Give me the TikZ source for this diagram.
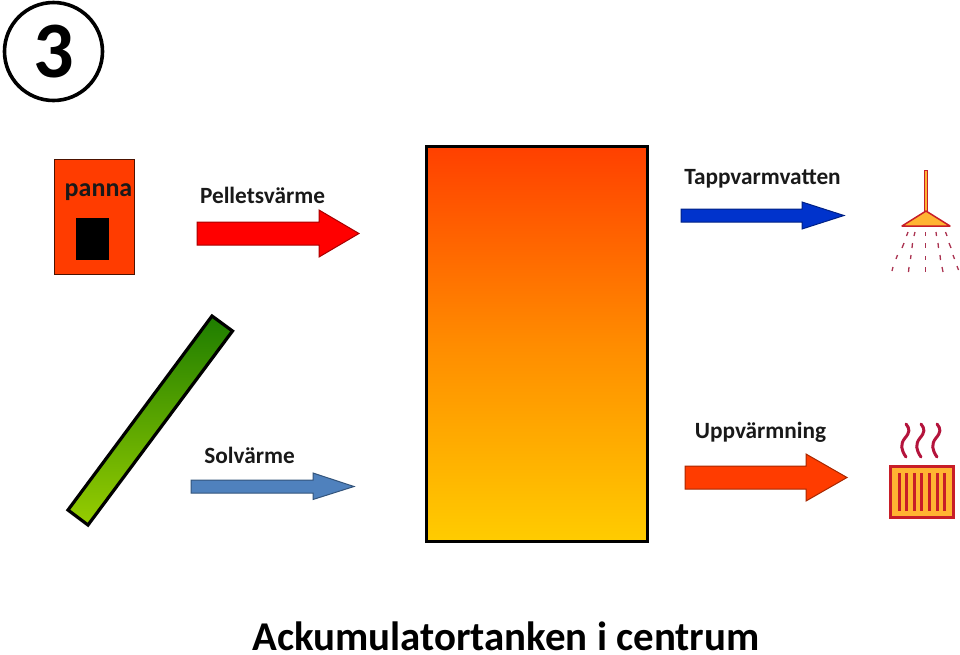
\documentclass[tikz,border=0pt]{standalone}
\usepackage{fontspec}
\setmainfont{Carlito}
\begin{document}
\begin{tikzpicture}[x=1pt,y=-1pt,
 lbl/.style={inner sep=0pt,font=\bfseries\fontsize{23.3}{23.3}\selectfont,text=black!90},
 fatarrow/.style={draw=#1!65!black,line width=1pt,fill=#1},
 drop/.style={draw=dropc,line width=1.3pt},
 wave/.style={draw=wavec,line width=3pt,line cap=round},
 fin/.style={draw=redc,line width=3pt}]
\definecolor{orangered}{RGB}{255,60,0}
\definecolor{tanktop}{RGB}{255,64,0}
\definecolor{tankmid}{RGB}{255,140,0}
\definecolor{tankbot}{RGB}{255,204,0}
\definecolor{blueA}{RGB}{0,51,204}
\definecolor{steel}{RGB}{79,129,189}
\definecolor{redc}{RGB}{200,30,40}
\definecolor{dropc}{RGB}{170,50,80}
\definecolor{wavec}{RGB}{180,20,60}
\definecolor{amber}{RGB}{255,180,50}
\definecolor{pure}{RGB}{255,0,0}
\definecolor{darkgreen}{RGB}{30,125,0}
\definecolor{lightgreen}{RGB}{150,205,0}
\useasboundingbox (0,0) rectangle (960,654);
% step number
\node[circle,draw=black,line width=3.6pt,minimum size=98pt,inner sep=0pt,font=\bfseries\fontsize{80}{80}\selectfont] (num) at (53.5,51.5) {3};
% boiler
\node[rectangle,draw=black!70!orangered,line width=1pt,fill=orangered,minimum width=80pt,minimum height=115pt,inner sep=0pt] (boiler) at (94.5,216.5) {};
\node[rectangle,fill=black,minimum width=33pt,minimum height=42pt,inner sep=0pt] (door) at (92,239) {};
\node[inner sep=0pt,font=\bfseries\fontsize{26}{26}\selectfont,text=black!90] (panna) at (98.5,192) {panna};
% tank
\node[rectangle,draw=black,line width=3pt,top color=tanktop,bottom color=tankbot,middle color=tankmid,minimum width=221pt,minimum height=395pt,inner sep=0pt] (tank) at (537,344) {};
% collector
\coordinate (c1) at (212,316);
\coordinate (c2) at (232.5,331);
\coordinate (c3) at (88,525);
\coordinate (c4) at (68,510);
\shade[top color=darkgreen,bottom color=lightgreen] (c1) -- (c2) -- (c3) -- (c4) -- cycle;
\draw[black,line width=3.2pt,line join=miter] (c1) -- (c2) -- (c3) -- (c4) -- cycle;
% arrows
\draw[fatarrow=pure] (197,222) -- (319,222) -- (319,210) -- (359,233.5) -- (319,257) -- (319,245) -- (197,245) -- cycle;
\draw[fatarrow=steel] (191,480) -- (313,480) -- (313,473) -- (354,486.5) -- (313,499.5) -- (313,493) -- (191,493) -- cycle;
\draw[fatarrow=blueA] (681,209) -- (802,209) -- (802,202) -- (844,215.5) -- (802,229) -- (802,222) -- (681,222) -- cycle;
\draw[fatarrow=orangered] (685,466) -- (806,466) -- (806,454) -- (847,477.5) -- (806,501) -- (806,489) -- (685,489) -- cycle;
% labels
\node[lbl] (pellets) at (262.5,195.5) {Pelletsvärme};
\node[lbl] (solar) at (249.5,455.5) {Solvärme};
\node[lbl] (tapp) at (762.5,179) {Tappvarmvatten};
\node[lbl] (uppv) at (760.5,432) {Uppvärmning};
\node[inner sep=0pt,anchor=base,font=\fontsize{40.9}{41}\selectfont\bfseries] (title) at (506,650) {Ackumulatortanken i centrum};
% shower
\draw[draw=redc,fill=amber,line width=1.3pt] (924.5,170.5) rectangle (927.5,212);
\draw[draw=redc,fill=amber,line width=1.5pt,line join=round] (926,211) -- (950,226) -- (902,226) -- cycle;
\foreach \xa/\ya/\xb/\yb in {
 908/232/906.5/236, 904/243/902/248, 897.5/255/896/259, 893/267/892/271,
 915/232/914/236, 912.5/243/912/248, 911/255/910.5/259, 909/267/908.5/272,
 925.5/232/925.5/236, 925.5/243/925.5/248, 925.5/256/925.5/260, 925.5/267/925.5/272,
 936/232/936.5/236, 938/243/938.5/248, 940/255/940.5/260, 942/267/943/272,
 945.5/232/947/236, 949/243/951/248, 953/255/954.5/259, 957/266/958.5/270}
 {\draw[drop] (\xa,\ya) -- (\xb,\yb);}
% radiator
\foreach \dx in {0,15,31}
 {\draw[wave] (906+\dx,424) .. controls (910+\dx,429) and (910+\dx,432) .. (905+\dx,438) .. controls (900+\dx,444) and (901+\dx,450) .. (906+\dx,457);}
\draw[draw=redc,fill=amber,line width=3pt] (890.5,466.5) rectangle (953,517);
\foreach \x in {899,906.7,914.3,921.8,929.3,937,944.7}
 {\draw[fin] (\x,473) -- (\x,511);}
\end{tikzpicture}
\end{document}
